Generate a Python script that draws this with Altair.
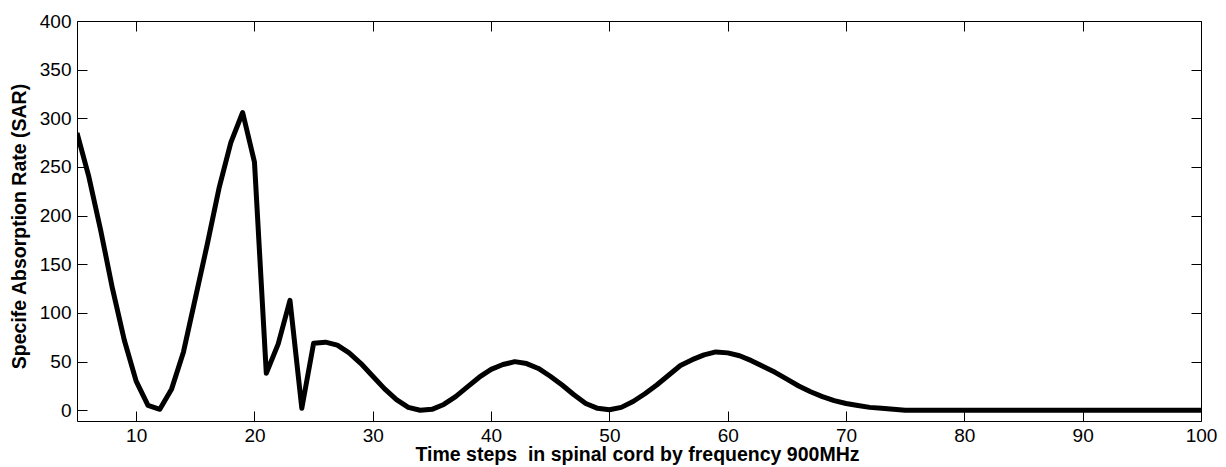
import altair as alt
import pandas as pd

# ---- data ----
time_steps = list(range(5, 101))
sar_values = [
    285, 240, 185, 125, 72, 30, 5, 1, 22, 60,        # 5-14
    115, 170, 228, 275, 306, 255, 38, 68, 113, 2,    # 15-24
    69, 70, 67, 59, 48, 35, 22, 11, 3, 0,            # 25-34
    1, 6, 14, 24, 34, 42, 47, 50, 48, 43,            # 35-44
    35, 26, 16, 7, 2, 0.5, 3, 9, 17, 26,             # 45-54
    36, 46, 52, 57, 60, 59, 56, 51, 45, 39,          # 55-64
    32, 25, 19, 14, 10, 7, 5, 3, 2, 1,               # 65-74
    0, 0, 0, 0, 0, 0, 0, 0, 0, 0,                    # 75-84
    0, 0, 0, 0, 0, 0, 0, 0, 0, 0,                    # 85-94
    0, 0, 0, 0, 0, 0,                                # 95-100
]
x_ticks = [10, 20, 30, 40, 50, 60, 70, 80, 90, 100]
y_ticks = [0, 50, 100, 150, 200, 250, 300, 350, 400]
x_title = "Time steps\u00a0 in spinal cord by frequency 900MHz"
y_title = "Specife Absorption Rate (SAR)"

df = pd.DataFrame({"t": time_steps, "sar": sar_values})

FONT = "Liberation Sans"
W, H = 1124, 400
xs = alt.Scale(domain=[5, 100], nice=False, zero=False)
ys = alt.Scale(domain=[-11, 400], nice=False, zero=False)

axis_common = dict(
    grid=False,
    domainColor="black",
    domainWidth=1,
    tickColor="black",
    tickWidth=1,
    tickSize={"expr": "-10"},
    labelFont=FONT,
    labelFontSize=19,
    labelColor="black",
    labelFlush=False,
)
title_common = dict(
    titleFont=FONT,
    titleFontSize=19.5,
    titleFontWeight="bold",
    titleColor="black",
)

main = alt.Chart(df).mark_line(
    color="black", strokeWidth=5, strokeJoin="round", clip=True
).encode(
    x=alt.X(
        "t:Q", scale=xs,
        axis=alt.Axis(
            orient="bottom", values=x_ticks, title=x_title,
            labelPadding=15, titleX=560, titleY=39,
            titleBaseline="alphabetic", **axis_common, **title_common,
        ),
    ),
    y=alt.Y(
        "sar:Q", scale=ys,
        axis=alt.Axis(
            orient="left", values=y_ticks, title=y_title,
            labelPadding=16, titleX=-58, titleY=205, titleAngle=270,
            titleBaseline="middle", **axis_common, **title_common,
        ),
    ),
)

frame = alt.Chart(df).mark_line(strokeOpacity=0).encode(
    x=alt.X(
        "t:Q", scale=xs,
        axis=alt.Axis(orient="top", values=x_ticks, labels=False, title=None,
                      **axis_common),
    ),
    y=alt.Y(
        "sar:Q", scale=ys,
        axis=alt.Axis(orient="right", values=y_ticks, labels=False, title=None,
                      **axis_common),
    ),
)

chart = alt.layer(main, frame).properties(
    width=W, height=H,
    autosize=alt.AutoSizeParams(type="none"),
    padding={"left": 69, "top": 13, "right": 17, "bottom": 46},
).configure_view(stroke=None).configure(background="white")

chart.save("out.html", embed_options={"renderer": "svg", "actions": False})
